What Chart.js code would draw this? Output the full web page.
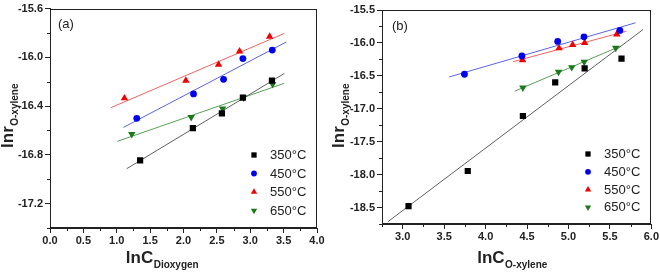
<!DOCTYPE html>
<html>
<head>
<meta charset="utf-8">
<script src="https://cdn.jsdelivr.net/npm/chart.js@4"></script>
<style>
  body { margin: 0; background: #fff; }
  .wrap { position: absolute; top: 0; width: 330px; height: 273px; }
</style>
</head>
<body>
<div class="wrap" style="left:0"><canvas id="chartA" width="330" height="273"></canvas></div>
<div class="wrap" style="left:330px"><canvas id="chartB" width="330" height="273"></canvas></div>
<script>
// legend labels
var temps = ['350°C', '450°C', '550°C', '650°C'];

// panel (a): lnr vs lnC dioxygen
var aX350 = [1.35, 2.14, 2.575, 2.89, 3.325];
var aY350 = [-16.845, -16.58, -16.46, -16.33, -16.19];
var aX450 = [1.30, 2.15, 2.60, 2.89, 3.33];
var aY450 = [-16.50, -16.30, -16.18, -16.01, -15.94];
var aX550 = [1.115, 2.035, 2.525, 2.84, 3.29];
var aY550 = [-16.335, -16.19, -16.06, -15.95, -15.83];
var aX650 = [1.225, 2.115, 2.585, 2.90, 3.335];
var aY650 = [-16.63, -16.49, -16.42, -16.33, -16.22];
// x extent of the fitted lines
var aFit350 = [1.15, 3.51];
var aFit450 = [1.10, 3.54];
var aFit550 = [0.91, 3.51];
var aFit650 = [1.01, 3.51];
var aXTicks = [0, 0.5, 1, 1.5, 2, 2.5, 3, 3.5, 4];
var aYTicks = [-17.2, -16.8, -16.4, -16.0, -15.6];

// panel (b): lnr vs lnC o-xylene
var bX350 = [3.07, 3.785, 4.45, 4.84, 5.195, 5.64];
var bY350 = [-18.48, -17.945, -17.11, -16.60, -16.385, -16.24];
var bX450 = [3.745, 4.438, 4.87, 5.187, 5.62];
var bY450 = [-16.476, -16.197, -15.978, -15.907, -15.81];
var bX550 = [4.446, 4.886, 5.05, 5.195, 5.583];
var bY550 = [-16.26, -16.08, -16.03, -16.0, -15.87];
var bX650 = [4.45, 4.88, 5.04, 5.19, 5.57];
var bY650 = [-16.68, -16.44, -16.37, -16.29, -16.075];
var bFit350 = [2.82, 5.90];
var bFit450 = [3.56, 5.81];
var bFit550 = [4.33, 5.70];
var bFit650 = [4.35, 5.63];
var bXTicks = [3, 3.5, 4, 4.5, 5, 5.5, 6];
var bYTicks = [-18.5, -18.0, -17.5, -17.0, -16.5, -16.0, -15.5];

var FONT = "'Liberation Sans', Arial, sans-serif";
var markColors = ['#000000', '#0000f0', '#f00000', '#1a7a1a'];
var lineColors = ['#606060', '#5a64e6', '#f06464', '#5aa05a'];
var styles = ['rect', 'circle', 'triangle', 'triangle'];
var radii = [4.4, 3.4, 4.3, 4.3];
var rots = [0, 0, 0, 180];

function pts(xs, ys) {
  return xs.map(function (x, i) { return { x: x, y: ys[i] }; });
}

function fitLine(xs, ys, range) {
  var n = xs.length, mx = 0, my = 0, sxy = 0, sxx = 0;
  xs.forEach(function (x, i) { mx += x / n; my += ys[i] / n; });
  xs.forEach(function (x, i) { sxy += (x - mx) * (ys[i] - my); sxx += (x - mx) * (x - mx); });
  var k = sxy / sxx, b = my - k * mx;
  return range.map(function (x) { return { x: x, y: k * x + b }; });
}

function buildDatasets(xs, ys, fits) {
  var sets = [];
  for (var i = 0; i < 4; i++) {
    sets.push({
      label: temps[i],
      data: pts(xs[i], ys[i]),
      backgroundColor: markColors[i],
      borderColor: markColors[i],
      pointStyle: styles[i],
      pointRadius: radii[i],
      pointRotation: rots[i],
      pointBorderWidth: 0,
      order: 1
    });
  }
  for (var j = 0; j < 4; j++) {
    sets.push({
      label: 'fit',
      data: fitLine(xs[j], ys[j], fits[j]),
      showLine: true,
      borderColor: lineColors[j],
      borderWidth: 1,
      pointRadius: 0,
      order: 2
    });
  }
  return sets;
}

// frame, minor ticks, titles, legend
var decor = {
  id: 'decor',
  afterDraw: function (chart, args, o) {
    var ctx = chart.ctx, a = chart.chartArea;
    var xs = chart.scales.x, ys = chart.scales.y;
    ctx.save();
    ctx.strokeStyle = '#222';
    ctx.lineWidth = 1;
    ctx.strokeRect(Math.round(a.left) + 0.5, Math.round(a.top) + 0.5,
      Math.round(a.right - a.left) - 1, Math.round(a.bottom - a.top) - 1);
    // minor ticks
    ctx.beginPath();
    for (var v = o.xMinor[0]; v <= xs.max + 1e-9; v += o.xMinor[1]) {
      var px = Math.round(xs.getPixelForValue(v)) + 0.5;
      ctx.moveTo(px, a.bottom); ctx.lineTo(px, a.bottom + 3);
    }
    for (var w = o.yMinor[0]; w <= ys.max + 1e-9; w += o.yMinor[1]) {
      var py = Math.round(ys.getPixelForValue(w)) + 0.5;
      ctx.moveTo(a.left, py); ctx.lineTo(a.left - 3, py);
    }
    ctx.stroke();

    ctx.fillStyle = '#222';
    ctx.textBaseline = 'alphabetic';
    // x title
    ctx.font = 'bold 17px ' + FONT;
    var mainW = ctx.measureText('lnC').width;
    ctx.font = 'bold 10px ' + FONT;
    var subW = ctx.measureText(o.xSub).width;
    var sx = o.xTitleCenter - (mainW + subW) / 2;
    ctx.font = 'bold 17px ' + FONT;
    ctx.fillText('lnC', sx, 263);
    ctx.font = 'bold 10px ' + FONT;
    ctx.fillText(o.xSub, sx + mainW + 0.5, 268);
    // y title
    ctx.save();
    ctx.translate(o.yTitleX, 116);
    ctx.rotate(-Math.PI / 2);
    ctx.font = 'bold 17px ' + FONT;
    var m2 = ctx.measureText('lnr').width;
    ctx.font = 'bold 10px ' + FONT;
    var s2 = ctx.measureText('O-xylene').width;
    var sy = -(m2 + s2) / 2;
    ctx.font = 'bold 17px ' + FONT;
    ctx.fillText('lnr', sy, 0);
    ctx.font = 'bold 10px ' + FONT;
    ctx.fillText('O-xylene', sy + m2 + 0.5, 5);
    ctx.restore();
    // panel tag
    ctx.font = '13px ' + FONT;
    ctx.fillText(o.tag, o.tagX, o.tagY);
    // legend
    ctx.font = '13px ' + FONT;
    ctx.textBaseline = 'middle';
    for (var i = 0; i < 4; i++) {
      var ds = chart.data.datasets[i];
      var yy = o.legY + i * o.legStep;
      ctx.fillStyle = ds.backgroundColor;
      Chart.helpers.drawPoint(ctx, {
        pointStyle: ds.pointStyle, radius: ds.pointRadius * 0.85,
        rotation: ds.pointRotation, borderWidth: 0
      }, o.legX, yy);
      ctx.fillStyle = '#222';
      ctx.fillText(temps[i], o.legX + 16, yy + 0.5);
    }
    ctx.restore();
  }
};

function makeChart(id, datasets, sc, pad, yWidth, xHeight, opts) {
  var tickFont = { family: FONT, size: 11, weight: 'bold' };
  return new Chart(document.getElementById(id), {
    type: 'scatter',
    data: { datasets: datasets },
    options: {
      responsive: false,
      animation: false,
      layout: { padding: pad },
      plugins: { legend: { display: false }, tooltip: { enabled: false }, decor: opts },
      scales: {
        x: {
          type: 'linear', min: sc.xMin, max: sc.xMax,
          afterFit: function (s) { s.height = xHeight; },
          afterBuildTicks: function (s) { s.ticks = sc.xTicks.map(function (v) { return { value: v }; }); },
          grid: { drawOnChartArea: false, tickLength: 5, color: '#222' },
          border: { color: '#222' },
          ticks: { font: tickFont, color: '#222', padding: 1, maxRotation: 0,
            callback: function (v) { return Number(v).toFixed(1); } }
        },
        y: {
          type: 'linear', min: sc.yMin, max: sc.yMax,
          afterFit: function (s) { s.width = yWidth; },
          afterBuildTicks: function (s) { s.ticks = sc.yTicks.map(function (v) { return { value: v }; }); },
          grid: { drawOnChartArea: false, tickLength: 5, color: '#222' },
          border: { color: '#222' },
          ticks: { font: tickFont, color: '#222', padding: 2,
            callback: function (v) { return Number(v).toFixed(1); } }
        }
      }
    },
    plugins: [decor]
  });
}

makeChart('chartA',
  buildDatasets([aX350, aX450, aX550, aX650], [aY350, aY450, aY550, aY650],
    [aFit350, aFit450, aFit550, aFit650]),
  { xMin: 0, xMax: 4, yMin: -17.4, yMax: -15.6, xTicks: aXTicks, yTicks: aYTicks },
  { left: 0, top: 7, right: 13, bottom: 0 }, 50, 45,
  { xMinor: [0.25, 0.5], yMinor: [-17.4, 0.4], xSub: 'Dioxygen', xTitleCenter: 162, yTitleX: 13,
    tag: '(a)', tagX: 58, tagY: 28, legX: 254, legY: 155, legStep: 18.5 });

makeChart('chartB',
  buildDatasets([bX350, bX450, bX550, bX650], [bY350, bY450, bY550, bY650],
    [bFit350, bFit450, bFit550, bFit650]),
  { xMin: 2.75, xMax: 6, yMin: -18.75, yMax: -15.5, xTicks: bXTicks, yTicks: bYTicks },
  { left: 0, top: 10, right: 7, bottom: 0 }, 52, 49,
  { xMinor: [2.75, 0.5], yMinor: [-18.75, 0.5], xSub: 'O-xylene', xTitleCenter: 182, yTitleX: 14,
    tag: '(b)', tagX: 62, tagY: 30, legX: 258, legY: 154, legStep: 17.8 });
</script>
</body>
</html>
